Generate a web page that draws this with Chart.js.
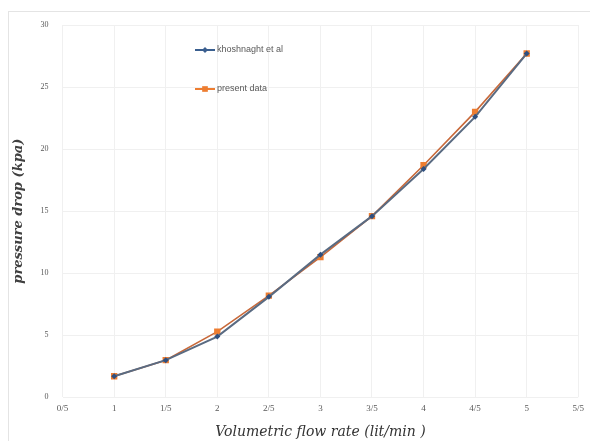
<!DOCTYPE html>
<html>
<head>
<meta charset="utf-8">
<script src="https://cdn.jsdelivr.net/npm/chart.js@4"></script>
<style>
  html, body { margin: 0; padding: 0; background: #fff; }
  #wrap { position: relative; width: 590px; height: 441px; }
  #frame { position: absolute; left: 8px; top: 11px; width: 600px; height: 440px; border: 1px solid #e4e4e4; }
  canvas { position: absolute; left: 0; top: 0; }
</style>
</head>
<body>
<div id="wrap">
  <div id="frame"></div>
  <canvas id="myChart" width="590" height="441"></canvas>
</div>
<script>
// flow rate (lit/min) and pressure drop (kpa)
const flowRates = [1, 1.5, 2, 2.5, 3, 3.5, 4, 4.5, 5];
const khoshnaghtValues = [1.7, 3.0, 4.9, 8.1, 11.5, 14.6, 18.4, 22.6, 27.7];
const presentValues = [1.7, 3.0, 5.3, 8.2, 11.3, 14.6, 18.7, 23.0, 27.7];
const xTickLabels = ["0/5", "1", "1/5", "2", "2/5", "3", "3/5", "4", "4/5", "5", "5/5"];
const yTicks = [0, 5, 10, 15, 20, 25, 30];

const seriesNames = ["khoshnaght et al", "present data"];
const orange = "#ed7d31";

function toPoints(values) {
  return flowRates.map((x, i) => ({ x: x, y: values[i] }));
}

// draws the legend inside the plot, like the original
const insideLegend = {
  id: "insideLegend",
  afterDraw(chart) {
    const ctx = chart.ctx;
    const items = [
      { name: seriesNames[0], color: "#3a5f8f", style: "rectRot", size: 3 },
      { name: seriesNames[1], color: orange, style: "rect", size: 4 },
    ];
    const x0 = 195;
    const rows = [50, 89];
    ctx.save();
    items.forEach((item, i) => {
      const y = rows[i];
      ctx.strokeStyle = item.color;
      ctx.lineWidth = 2;
      ctx.beginPath();
      ctx.moveTo(x0, y);
      ctx.lineTo(x0 + 20, y);
      ctx.stroke();
      ctx.fillStyle = item.color;
      Chart.helpers.drawPoint(ctx, { pointStyle: item.style, radius: item.size, borderWidth: 0 }, x0 + 10, y);
      ctx.fillStyle = "#595959";
      ctx.font = "9px 'Liberation Sans'";
      ctx.textBaseline = "middle";
      ctx.fillText(item.name, x0 + 22, y);
    });
    ctx.restore();
  },
};

function initChart() {
  const ctx = document.getElementById("myChart");
  return new Chart(ctx, {
    type: "line",
    data: {
      datasets: [
        {
          label: seriesNames[0],
          data: toPoints(khoshnaghtValues),
          borderColor: "#5a6b82",
          backgroundColor: "#2f4f7f",
          borderWidth: 2,
          pointStyle: "rectRot",
          pointRadius: 3,
          pointBorderWidth: 0,
        },
        {
          label: seriesNames[1],
          data: toPoints(presentValues),
          borderColor: "#c8693a",
          backgroundColor: orange,
          borderWidth: 1.6,
          pointStyle: "rect",
          pointRadius: 4.5,
          pointBorderWidth: 0,
        },
      ],
    },
    options: {
      responsive: false,
      animation: false,
      layout: { padding: { left: 11, right: 6, top: 25, bottom: 0 } },
      plugins: { legend: { display: false }, tooltip: { enabled: false } },
      scales: {
        x: {
          type: "linear",
          min: 0.5,
          max: 5.5,
          afterBuildTicks: (axis) => {
            axis.ticks = xTickLabels.map((_, i) => ({ value: 0.5 + i * 0.5 }));
          },
          ticks: {
            autoSkip: false,
            maxRotation: 0,
            color: "#595959",
            font: { family: "'Liberation Serif'", size: 9 },
            padding: 6,
            callback: (v) => xTickLabels[Math.round((v - 0.5) / 0.5)],
          },
          grid: { color: "#f0f0f0", drawTicks: false },
          border: { display: false },
          title: {
            display: true,
            text: "Volumetric flow rate (lit/min )",
            color: "#333333",
            font: { family: "'DejaVu Serif'", size: 14, style: "italic" },
            padding: { top: 4, bottom: 0 },
          },
        },
        y: {
          min: 0,
          max: 30,
          afterBuildTicks: (axis) => {
            axis.ticks = yTicks.map((v) => ({ value: v }));
          },
          ticks: {
            color: "#595959",
            font: { family: "'Liberation Serif'", size: 8 },
            padding: 14,
          },
          grid: { color: "#f0f0f0", drawTicks: false },
          border: { display: false },
          title: {
            display: true,
            text: "pressure drop (kpa)",
            color: "#404040",
            font: { family: "'DejaVu Serif'", size: 13, style: "italic", weight: "bold" },
            padding: { top: 0, bottom: 0 },
          },
        },
      },
    },
    plugins: [insideLegend],
  });
}

document.addEventListener("DOMContentLoaded", () => initChart());
</script>
</body>
</html>
